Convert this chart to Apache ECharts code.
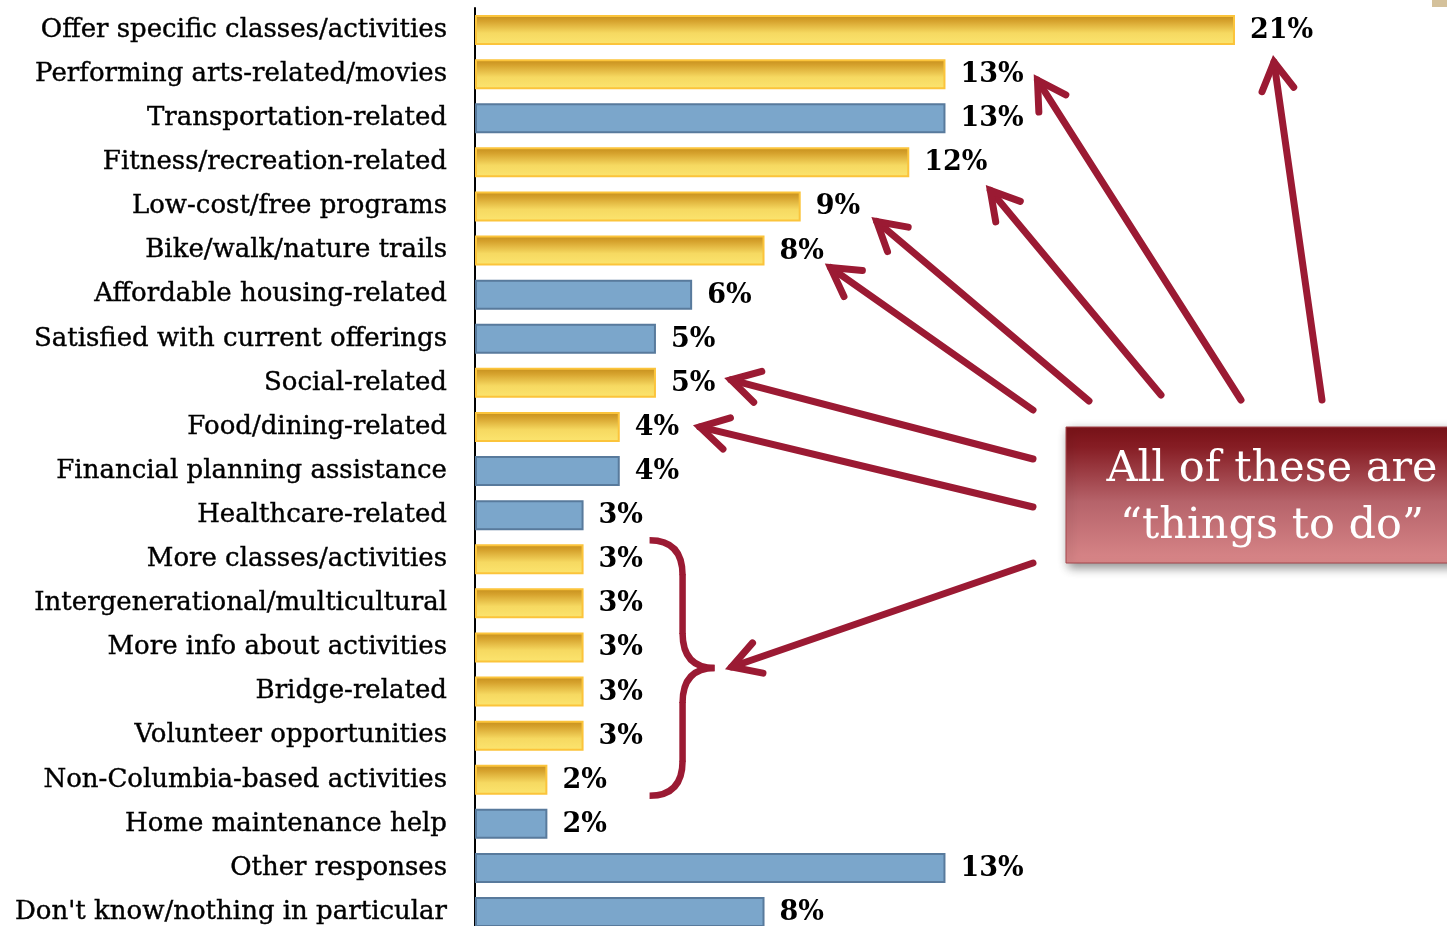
<!DOCTYPE html>
<html>
<head>
<meta charset="utf-8">
<script src="https://cdn.jsdelivr.net/npm/echarts@6/dist/echarts.min.js"></script>
<style>
  html, body { margin: 0; padding: 0; background: #fff; }
  #chart { width: 1447px; height: 926px; }
</style>
</head>
<body>
<div id="chart"></div>
<script>
// Suggestions, share of respondents (%)
const categories = [
  'Offer specific classes/activities',
  'Performing arts-related/movies',
  'Transportation-related',
  'Fitness/recreation-related',
  'Low-cost/free programs',
  'Bike/walk/nature trails',
  'Affordable housing-related',
  'Satisfied with current offerings',
  'Social-related',
  'Food/dining-related',
  'Financial planning assistance',
  'Healthcare-related',
  'More classes/activities',
  'Intergenerational/multicultural',
  'More info about activities',
  'Bridge-related',
  'Volunteer opportunities',
  'Non-Columbia-based activities',
  'Home maintenance help',
  'Other responses',
  "Don't know/nothing in particular"
];
const values = [21, 13, 13, 12, 9, 8, 6, 5, 5, 4, 4, 3, 3, 3, 3, 3, 3, 2, 2, 13, 8];
// true = a "thing to do"
const thingsToDo = [true, true, false, true, true, true, false, false, true, true,
                    false, false, true, true, true, true, true, true, false, false, false];
const calloutLines = ['All of these are', '\u201Cthings to do\u201D'];

const chart = echarts.init(document.getElementById('chart'), null, { renderer: 'canvas' });

const goldFill = new echarts.graphic.LinearGradient(0, 0, 0, 1, [
  { offset: 0, color: '#C48D1B' },
  { offset: 0.2, color: '#D6A22D' },
  { offset: 0.6, color: '#F6D961' },
  { offset: 1, color: '#FCE56F' }
]);

const option = {
  animation: false,
  backgroundColor: '#ffffff',
  grid: {
    left: 475, top: 8, width: 25 * 36.19, height: 21 * 44.1,
    containLabel: false, outerBoundsMode: 'none'
  },
  xAxis: { type: 'value', min: 0, max: 25, show: false },
  yAxis: {
    type: 'category',
    inverse: true,
    data: categories,
    axisLine: { show: true, lineStyle: { color: '#000', width: 2 } },
    axisTick: { show: false },
    axisLabel: {
      color: '#000', fontFamily: 'DejaVu Serif', fontSize: 26, margin: 28,
      textBorderColor: '#000', textBorderWidth: 0.4
    }
  },
  series: [{
    type: 'bar',
    barWidth: 30,
    data: values.map((v, i) => ({
      value: v,
      itemStyle: thingsToDo[i]
        ? { color: goldFill, borderColor: '#FBC43B', borderWidth: 2 }
        : { color: '#7BA6CB', borderColor: '#587A9C', borderWidth: 2 }
    })),
    label: {
      show: true,
      position: 'right',
      distance: 15,
      offset: [0, 1],
      formatter: '{c}%',
      color: '#000',
      fontFamily: 'DejaVu Serif',
      fontWeight: 'bold',
      fontSize: 27
    }
  }]
};
chart.setOption(option);

// ---- callout: box, arrows and brace ----
const RED = '#9B1A33';
const px = (v, i) => chart.convertToPixel({ gridIndex: 0 }, [v, i]);

function arrow(tail, head) {
  const dx = tail[0] - head[0], dy = tail[1] - head[1];
  const len = Math.hypot(dx, dy);
  const ux = dx / len, uy = dy / len;
  const a = 30 * Math.PI / 180, L = 32;
  const rot = (s) => [head[0] + L * (ux * Math.cos(s * a) - uy * Math.sin(s * a)),
                      head[1] + L * (ux * Math.sin(s * a) + uy * Math.cos(s * a))];
  const style = { stroke: RED, lineWidth: 7, lineCap: 'round', lineJoin: 'miter', fill: null };
  return [
    { type: 'line', z: 20, shape: { x1: tail[0], y1: tail[1], x2: head[0], y2: head[1] }, style },
    { type: 'polyline', z: 20, shape: { points: [rot(1), head, rot(-1)] }, style }
  ];
}

// arrows point to the value label of these rows: [row, offset from bar end]
const arrowSpecs = [
  { row: 0, tail: [1322, 400], off: [39, 32] },
  { row: 1, tail: [1241, 400], off: [92, 6] },
  { row: 3, tail: [1161, 395], off: [81, 28] },
  { row: 4, tail: [1089, 401], off: [76, 15] },
  { row: 5, tail: [1033, 410], off: [66, 17] },
  { row: 8, tail: [1033, 459], off: [75, -3] },
  { row: 9, tail: [1033, 507], off: [80, 0] }
];

const graphics = [];
arrowSpecs.forEach(s => {
  const p = px(values[s.row], s.row);
  graphics.push(...arrow(s.tail, [p[0] + s.off[0], p[1] + s.off[1]]));
});

// brace grouping rows 12..17
const braceTop = px(0, 12)[1] - 19;
const braceBot = px(0, 17)[1] + 16;
const braceMid = (braceTop + braceBot) / 2;
const bx0 = px(3, 12)[0] + 66;
const bx1 = bx0 + 33, tipX = bx0 + 65;
const bStyle = { stroke: RED, lineWidth: 6.5, lineCap: 'butt', fill: null };
graphics.push(
  { type: 'bezierCurve', z: 20, style: bStyle, shape: { x1: bx0, y1: braceTop, cpx1: bx1, cpy1: braceTop, x2: bx1, y2: braceTop + 35 } },
  { type: 'line', z: 20, style: bStyle, shape: { x1: bx1, y1: braceTop + 34, x2: bx1, y2: braceMid - 34 } },
  { type: 'bezierCurve', z: 20, style: bStyle, shape: { x1: bx1, y1: braceMid - 35, cpx1: bx1, cpy1: braceMid, x2: tipX, y2: braceMid } },
  { type: 'bezierCurve', z: 20, style: bStyle, shape: { x1: tipX, y1: braceMid, cpx1: bx1, cpy1: braceMid, x2: bx1, y2: braceMid + 35 } },
  { type: 'line', z: 20, style: bStyle, shape: { x1: bx1, y1: braceMid + 34, x2: bx1, y2: braceBot - 34 } },
  { type: 'bezierCurve', z: 20, style: bStyle, shape: { x1: bx1, y1: braceBot - 35, cpx1: bx1, cpy1: braceBot, x2: bx0, y2: braceBot } }
);
graphics.push(...arrow([1033, 563], [tipX + 17, braceMid - 1]));

// callout box
graphics.push({
  type: 'rect', z: 30,
  shape: { x: 1066, y: 427, width: 400, height: 136 },
  style: {
    fill: new echarts.graphic.LinearGradient(0, 0, 0, 1, [
      { offset: 0, color: '#7B1218' },
      { offset: 0.15, color: '#861D24' },
      { offset: 0.55, color: '#B6636A' },
      { offset: 1, color: '#D98789' }
    ]),
    stroke: '#A5464C', lineWidth: 1,
    shadowBlur: 10, shadowOffsetX: 3, shadowOffsetY: 4, shadowColor: 'rgba(0,0,0,0.45)'
  }
});
calloutLines.forEach((t, i) => {
  graphics.push({
    type: 'text', z: 31,
    style: {
      text: t, x: 1272, y: 470 + i * 57,
      fill: '#fff', font: '43px "DejaVu Serif"',
      textAlign: 'center', textVerticalAlign: 'middle'
    }
  });
});

// small corner tab
graphics.push({ type: 'rect', z: 5, shape: { x: 1432, y: 0, width: 15, height: 7 }, style: { fill: '#D4C19B' } });

chart.setOption({ graphic: graphics });
</script>
</body>
</html>
